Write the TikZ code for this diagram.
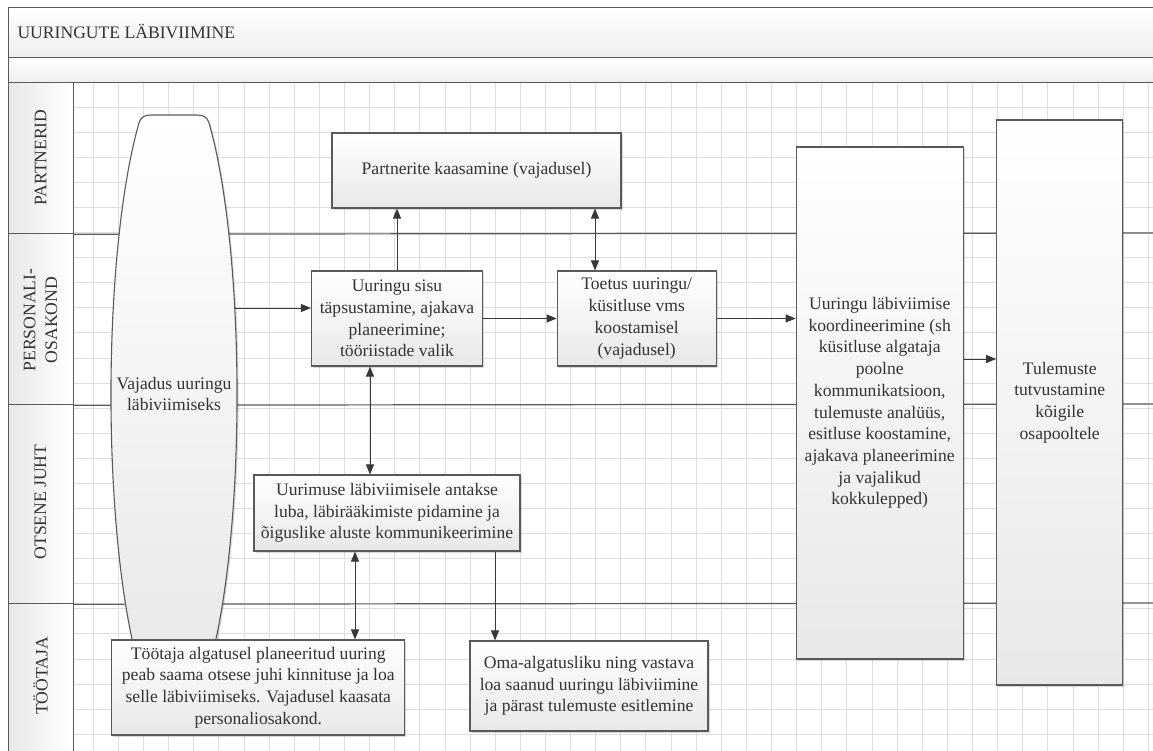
\documentclass[tikz,border=0pt]{standalone}
\usepackage{fontspec}
\setmainfont{Liberation Serif}
\usetikzlibrary{arrows.meta,shadows}

\definecolor{inkline}{HTML}{5A5A5A}
\definecolor{inktext}{HTML}{333333}
\definecolor{gridgray}{HTML}{DEDEDE}

\tikzset{
  bodyfont/.style={font=\fontsize{17.6}{21.7}\selectfont, text=inktext},
  frameline/.style={draw=inkline, line width=1.2pt},
  gridline/.style={draw=gridgray, line width=0.9pt},
  band/.style={frameline, top color=white, bottom color=black!7, inner sep=0pt},
  lanecell/.style={frameline, left color=black!9, right color=white, inner sep=0pt},
  lanetext/.style={bodyfont, rotate=90, align=center},
  boxshadow/.style={drop shadow={shadow xshift=1.6pt, shadow yshift=-1.6pt, fill=black, opacity=0.15}},
  stepbox/.style={draw=inkline, line width=1.1pt, top color=white, bottom color=black!9,
    bodyfont, align=center, inner sep=2pt, boxshadow},
  flow/.style={draw=black!78, line width=1pt, -{Triangle[length=10pt,width=8pt]}},
  bothway/.style={flow, {Triangle[length=10pt,width=8pt]}-{Triangle[length=10pt,width=8pt]}}
}

\begin{document}
\begin{tikzpicture}[x=1pt,y=-1pt]
\useasboundingbox (0,0) rectangle (1153,751);
\clip (0,0) rectangle (1153,751);
\fill[white] (0,0) rectangle (1153,751);

% background grid of the lane area
\foreach \i in {0,...,42}
  \draw[gridline] ({93.3+25.12*\i},82) -- ({93.3+25.12*\i},760);
\foreach \j in {0,...,27}
  \draw[gridline] (73,{107.2+25.08*\j}) -- (1160,{107.2+25.08*\j});

% title bands
\node[band, anchor=north west, minimum width=1160pt, minimum height=50pt] (titleband) at (8,7) {};
\node[bodyfont, anchor=west] (titletext) at (14,32) {UURINGUTE LÄBIVIIMINE};
\node[band, anchor=north west, minimum width=1160pt, minimum height=25pt] (subband) at (8,57) {};

% lane headers
\node[lanecell, anchor=north west, minimum width=65pt, minimum height=151pt] (lane1) at (8,82) {};
\node[lanecell, anchor=north west, minimum width=65pt, minimum height=171pt] (lane2) at (8,233) {};
\node[lanecell, anchor=north west, minimum width=65pt, minimum height=199pt] (lane3) at (8,404) {};
\node[lanecell, anchor=north west, minimum width=65pt, minimum height=160pt] (lane4) at (8,603) {};
\node[lanetext] (lane1t) at (40.5,157.5) {PARTNERID};
\node[lanetext] (lane2t) at (40.5,320) {PERSONALI-\\OSAKOND};
\node[lanetext] (lane3t) at (40.5,502) {OTSENE JUHT};
\node[lanetext] (lane4t) at (40.5,676) {TÖÖTAJA};

% lane separators
\draw[frameline] (lane1.south east) -- (1160,233);
\draw[frameline] (lane2.south east) -- (1160,404);
\draw[frameline] (lane3.south east) -- (1160,603);

% start shape: flat ends with soft corners, bulging sides
\path[draw=inkline, line width=1.1pt, top color=white, bottom color=black!9, boxshadow]
  (151,115) -- (197,115) .. controls (204,115) and (207.5,118) .. (208.8,122.3)
  arc[start angle=-56.5, end angle=56.5, x radius=63, y radius=327]
  .. controls (207.5,672) and (204,675) .. (197,675) -- (151,675)
  .. controls (144,675) and (140.5,672) .. (139.2,667.7)
  arc[start angle=123.5, end angle=236.5, x radius=63, y radius=327]
  .. controls (140.5,118) and (144,115) .. (151,115) -- cycle;
\node[bodyfont, align=center, minimum width=126pt, minimum height=560pt] (vaj) at (174,394)
  {Vajadus uuringu\\läbiviimiseks};

% process steps
\node[stepbox, minimum width=289pt, minimum height=75pt] (partner) at (476.5,170.5)
  {Partnerite kaasamine (vajadusel)};
\node[stepbox, minimum width=171pt, minimum height=95pt] (sisu) at (397,318.5)
  {Uuringu sisu\\täpsustamine, ajakava\\planeerimine;\\tööriistade valik};
\node[stepbox, minimum width=159pt, minimum height=95pt] (toetus) at (636.7,318.5)
  {Toetus uuringu/\\küsitluse vms\\koostamisel\\(vajadusel)};
\node[stepbox, minimum width=266pt, minimum height=76pt] (luba) at (387,513)
  {Uurimuse läbiviimisele antakse\\luba, läbirääkimiste pidamine ja\\õiguslike aluste kommunikeerimine};
\node[stepbox, minimum width=293pt, minimum height=95pt] (tootaja) at (258.3,687.5)
  {Töötaja algatusel planeeritud uuring\\peab saama otsese juhi kinnituse ja loa\\selle läbiviimiseks. Vajadusel kaasata\\personaliosakond.};
\node[stepbox, minimum width=238pt, minimum height=90pt] (oma) at (589,686)
  {Oma-algatusliku ning vastava\\loa saanud uuringu läbiviimine\\ja pärast tulemuste esitlemine};
\node[stepbox, minimum width=167pt, minimum height=512pt] (koord) at (879.7,403)
  {Uuringu läbiviimise\\koordineerimine (sh\\küsitluse algataja\\poolne\\kommunikatsioon,\\tulemuste analüüs,\\esitluse koostamine,\\ajakava planeerimine\\ja vajalikud\\kokkulepped)};
\node[stepbox, minimum width=126pt, minimum height=565pt] (tulem) at (1059.7,402.5)
  {Tulemuste\\tutvustamine\\kõigile\\osapooltele};

% connector anchors
\coordinate (vajout) at (234.5,308);
\coordinate (colA) at (595,0);
\coordinate (colB) at (370,0);
\coordinate (colC) at (355,0);
\coordinate (colD) at (495,0);
\coordinate (rowA) at (0,359);

% connectors
\draw[flow] (vajout) -- (vajout -| sisu.west);
\draw[flow] (sisu.north) -- (sisu.north |- partner.south);
\draw[bothway] (toetus.north -| colA) -- (partner.south -| colA);
\draw[flow] (sisu.east) -- (toetus.west);
\draw[flow] (toetus.east) -- (toetus.east -| koord.west);
\draw[flow] (koord.east |- rowA) -- (tulem.west |- rowA);
\draw[bothway] (sisu.south -| colB) -- (luba.north -| colB);
\draw[bothway] (luba.south -| colC) -- (tootaja.north -| colC);
\draw[flow] (luba.south -| colD) -- (oma.north -| colD);
\end{tikzpicture}
\end{document}
